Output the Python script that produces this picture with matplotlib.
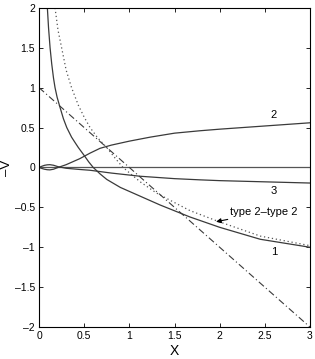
import numpy as np
import matplotlib.pyplot as plt

plt.rcParams['font.family'] = ['Liberation Sans', 'DejaVu Sans']

# curve 1 (solid, steep)
x1 = [0.092, 0.105, 0.122, 0.14, 0.16, 0.177, 0.2, 0.233, 0.27, 0.307, 0.36, 0.4, 0.435,
      0.5, 0.55, 0.6, 0.675, 0.75, 0.9, 1.12, 1.34, 1.67, 2.0, 2.45, 3.0]
y1 = [2.0, 1.75, 1.5, 1.3, 1.12, 1.0, 0.88, 0.75, 0.61, 0.5, 0.38, 0.31, 0.25,
      0.15, 0.07, 0.0, -0.08, -0.15, -0.25, -0.36, -0.47, -0.62, -0.75, -0.9, -1.0]

# curve 2 (solid, rising)
x2 = [0.0, 0.03, 0.06, 0.09, 0.12, 0.16, 0.21, 0.3, 0.45, 0.565, 0.675, 0.8, 1.0,
      1.23, 1.5, 1.78, 2.0, 2.5, 3.0]
y2 = [0.0, -0.012, -0.022, -0.028, -0.03, -0.022, 0.0, 0.035, 0.11, 0.18, 0.24, 0.28, 0.33,
      0.38, 0.43, 0.46, 0.48, 0.52, 0.56]

# curve 3 (solid, slightly falling)
x3 = [0.0, 0.03, 0.06, 0.09, 0.12, 0.16, 0.21, 0.3, 0.45, 0.565, 0.8, 1.12, 1.5, 1.78,
      2.0, 2.5, 3.0]
y3 = [0.0, 0.015, 0.027, 0.033, 0.035, 0.028, 0.01, -0.01, -0.025, -0.035, -0.07, -0.11,
      -0.14, -0.155, -0.165, -0.18, -0.195]

# type 2-type 2 (dotted)
xd = [0.177, 0.21, 0.25, 0.3, 0.36, 0.435, 0.5, 0.565, 0.65, 0.75, 0.84, 0.93, 1.12,
      1.3, 1.5, 1.67, 1.97, 2.45, 3.0]
yd = [2.0, 1.72, 1.5, 1.22, 1.0, 0.78, 0.63, 0.5, 0.37, 0.25, 0.12, 0.0, -0.18,
      -0.32, -0.44, -0.54, -0.67, -0.86, -0.98]

# dash-dot straight line
xl = [0.0, 3.0]
yl = [1.0, -2.0]

xticks = [0, 0.5, 1, 1.5, 2, 2.5, 3]
yticks = [-2, -1.5, -1, -0.5, 0, 0.5, 1, 1.5, 2]

fig = plt.figure(figsize=(3.15, 3.59), dpi=100)
ax = fig.add_axes([0.124, 0.089, 0.86, 0.889])

c = '#3a3a3a'
ax.plot([0, 3], [0, 0], color='#555555', lw=0.9)
ax.plot(x1, y1, color=c, lw=0.9)
ax.plot(x2, y2, color=c, lw=0.9)
ax.plot(x3, y3, color=c, lw=0.9)
ax.plot(xd, yd, color='#555555', lw=0.9, linestyle=(0, (1, 2.2)))
ax.plot(xl, yl, color=c, lw=0.8, linestyle=(0, (6, 2.5, 1, 2.5)))

ax.text(2.6, 0.66, '2', fontsize=8, ha='center', va='center')
ax.text(2.6, -0.30, '3', fontsize=8, ha='center', va='center')
ax.text(2.6, -1.06, '1', fontsize=8, ha='center', va='center')
ax.annotate('type 2\u2013type 2', xy=(1.96, -0.68), xytext=(2.12, -0.56),
            fontsize=8, va='center', ha='left',
            arrowprops=dict(arrowstyle='-|>', color='black', lw=0.8,
                            mutation_scale=7, shrinkA=0, shrinkB=0))

ax.set_xlim(0, 3)
ax.set_ylim(-2, 2)
ax.set_xticks(xticks)
ax.set_yticks(yticks)
ax.set_xticklabels(['0', '0.5', '1', '1.5', '2', '2.5', '3'])
ax.set_yticklabels([('\u2013' + f'{abs(v):g}') if v < 0 else f'{v:g}' for v in yticks])
ax.tick_params(direction='in', top=True, right=True, labelsize=7.5, length=3, width=0.6,
               pad=3)
for s in ax.spines.values():
    s.set_linewidth(0.8)
ax.set_xlabel('X', fontsize=10, labelpad=2)
ax.set_ylabel('\u2013V', fontsize=9.5)
ax.yaxis.set_label_coords(-0.098, 0.5)

fig.savefig('out.png', dpi=100)
